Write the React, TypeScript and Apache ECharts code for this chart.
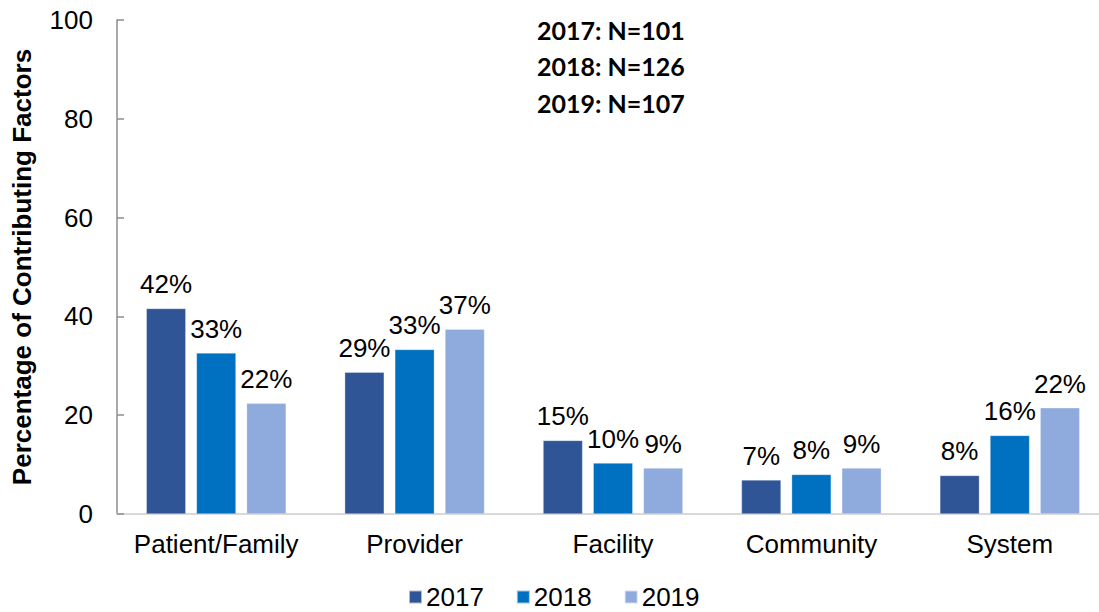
import React, { useEffect, useRef } from "react";
import * as echarts from "echarts";

const categories = ["Patient/Family", "Provider", "Facility", "Community", "System"];
const years = ["2017", "2018", "2019"];
const values2017 = [41.6, 28.7, 14.9, 6.9, 7.8];
const values2018 = [32.6, 33.3, 10.3, 8.0, 15.9];
const values2019 = [22.4, 37.4, 9.3, 9.3, 21.5];
const colors = ["#2F5597", "#0070C0", "#8FAADC"];
const yTicks = [0, 20, 40, 60, 80, 100];
const noteLines = ["2017: N=101", "2018: N=126", "2019: N=107"];

export default function App() {
  const ref = useRef<HTMLDivElement>(null);
  useEffect(() => {
    if (!ref.current) return;
    const chart = echarts.init(ref.current, null, { renderer: "svg" });
    const seriesData = [values2017, values2018, values2019];
    const font = "Liberation Sans, Arial, sans-serif";
    chart.setOption({
      animation: false,
      textStyle: { fontFamily: font },
      grid: { left: 117, width: 992, top: 20, bottom: 98, containLabel: false },
      legend: {
        data: years,
        left: 403,
        top: 579,
        itemWidth: 13,
        itemHeight: 13,
        itemGap: 32,
        icon: "rect",
        textStyle: { fontSize: 26, color: "#000", fontFamily: font, padding: [0, 0, 0, -1] },
      },
      xAxis: {
        type: "category",
        data: categories,
        axisLine: { lineStyle: { color: "#D9D9D9", width: 2 } },
        axisTick: { show: false },
        axisLabel: { fontSize: 26, color: "#000", margin: 17, fontFamily: font, interval: 0 },
      },
      yAxis: {
        type: "value",
        min: yTicks[0],
        max: yTicks[yTicks.length - 1],
        interval: 20,
        name: "Percentage of Contributing Factors",
        nameLocation: "middle",
        nameGap: 82,
        nameTextStyle: { fontSize: 26, fontWeight: "bold", color: "#000", fontFamily: font },
        splitLine: { show: false },
        axisLine: { show: true, lineStyle: { color: "#8C8C8C", width: 1.5 } },
        axisTick: { show: true, inside: true, length: 7, lineStyle: { color: "#8C8C8C", width: 1.5 } },
        axisLabel: { fontSize: 26, color: "#000", margin: 24, fontFamily: font },
      },
      series: years.map((y, i) => ({
        name: y,
        type: "bar",
        data: seriesData[i],
        barWidth: 39.5,
        barGap: "27%",
        itemStyle: { color: colors[i], borderColor: "rgba(255,255,255,0.6)", borderWidth: 0.5 },
        label: {
          show: true,
          position: "top",
          distance: 11,
          fontSize: 26,
          color: "#000",
          fontFamily: font,
          formatter: (p: any) => Math.round(p.value) + "%",
        },
      })),
      graphic: noteLines.map((t, i) => ({
        type: "text",
        left: 537,
        top: 17 + i * 36.5,
        style: {
          text: t,
          font: "bold 25px Lato, 'Open Sans', sans-serif",
          fill: "#000",
        },
      })),
    });
    return () => chart.dispose();
  }, []);
  return (
    <div style={{ width: 1099, height: 612, position: "absolute", left: 0, top: 0, overflow: "hidden" }}>
      <div ref={ref} style={{ width: 1120, height: 612 }} />
    </div>
  );
}
